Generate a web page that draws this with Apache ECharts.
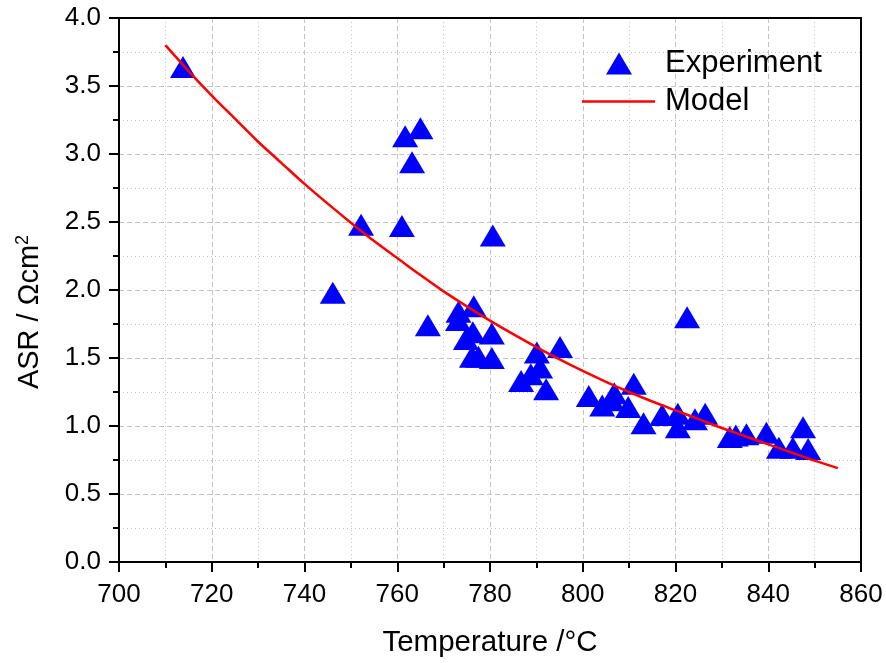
<!DOCTYPE html>
<html>
<head>
<meta charset="utf-8">
<script src="https://cdn.jsdelivr.net/npm/echarts@6/dist/echarts.min.js"></script>
<style>
  html, body { margin: 0; padding: 0; background: #ffffff; }
  #chart { width: 886px; height: 663px; }
</style>
</head>
<body>
<div id="chart"></div>
<script>
// Measured area-specific resistance vs. temperature
const expTemperature = [
  713.8, 746.1, 752.2, 761.0, 761.7, 765.0, 763.2, 780.6, 766.6,
  773.2, 776.5, 773.1, 776.3, 780.4, 774.8, 776.1, 777.5, 780.4,
  790.1, 795.1, 790.8, 788.8, 786.7, 792.1,
  801.3, 804.2, 806.3, 806.8, 811.0, 809.8, 813.1, 817.1, 820.5, 820.5,
  822.5, 824.2, 826.4, 831.7, 833.0, 835.3, 839.6, 842.3, 845.3, 847.5, 848.6
];
const expASR = [
  3.64, 1.98, 2.48, 2.47, 3.13, 3.19, 2.94, 2.40, 1.74,
  1.84, 1.88, 1.78, 1.69, 1.68, 1.64, 1.51, 1.51, 1.50,
  1.54, 1.58, 1.43, 1.38, 1.33, 1.27,
  1.22, 1.15, 1.19, 1.24, 1.31, 1.14, 1.02, 1.08, 1.09, 0.99,
  1.80, 1.05, 1.09, 0.92, 0.93, 0.94, 0.95, 0.84, 0.84, 0.99, 0.83
];

// Model curve
const modelTemperature = [
  710, 715, 720, 725, 730, 735, 740, 745, 750, 755, 760, 765, 770, 775, 780,
  785, 790, 795, 800, 805, 810, 815, 820, 825, 830, 835, 840, 845, 850, 855
];
const modelASR = [
  3.80, 3.61, 3.43, 3.26, 3.09, 2.935, 2.78, 2.635, 2.495, 2.36, 2.235, 2.11, 1.99, 1.88, 1.775,
  1.675, 1.58, 1.49, 1.405, 1.325, 1.25, 1.18, 1.115, 1.05, 0.985, 0.925, 0.865, 0.805, 0.745, 0.69
];

const FONT = 'Liberation Sans, Arial, sans-serif';
const gridDash = '#c4c4c4';

const chart = echarts.init(document.getElementById('chart'), null, { renderer: 'canvas' });

const zip = (a, b) => a.map((v, i) => [v, b[i]]);

const legendText = (padLeft) => ({
  fontSize: 31, color: '#000', fontFamily: FONT, padding: [0, 0, 0, padLeft]
});

chart.setOption({
  backgroundColor: '#ffffff',
  animation: false,
  textStyle: { fontFamily: FONT },
  grid: { left: 119, right: 25, top: 18, bottom: 99, containLabel: false },
  legend: [{
    orient: 'vertical',
    left: 606,
    top: 48,
    padding: 0,
    itemWidth: 26,
    itemHeight: 22,
    textStyle: legendText(28),
    data: [{ name: 'Experiment', icon: 'triangle' }]
  }, {
    orient: 'vertical',
    left: 582,
    top: 86,
    padding: 0,
    itemWidth: 73,
    itemHeight: 2.5,
    textStyle: legendText(5),
    data: [{ name: 'Model', icon: 'rect' }]
  }],
  xAxis: [{
    type: 'value',
    min: 700, max: 860, interval: 20,
    name: 'Temperature /°C',
    nameLocation: 'middle',
    nameGap: 66,
    nameTextStyle: { fontSize: 29.5, color: '#000', fontFamily: FONT },
    axisLine: { show: true, onZero: false, lineStyle: { color: '#000', width: 2 } },
    axisTick: { show: true, length: 10, lineStyle: { color: '#000', width: 2 } },
    minorTick: { show: true, splitNumber: 2, length: 6, lineStyle: { color: '#000', width: 2 } },
    axisLabel: { fontSize: 26, color: '#000', margin: 20, fontFamily: FONT },
    splitLine: { show: true, lineStyle: { color: gridDash, width: 1, type: [5, 3] } },
    minorSplitLine: { show: true, lineStyle: { color: gridDash, width: 1, type: [1, 3] } }
  }, {
    type: 'value', position: 'top',
    min: 700, max: 860, interval: 20,
    axisLine: { show: true, onZero: false, lineStyle: { color: '#000', width: 2 } },
    axisTick: { show: false }, axisLabel: { show: false }, splitLine: { show: false }
  }],
  yAxis: [{
    type: 'value',
    min: 0, max: 4, interval: 0.5,
    axisLine: { show: true, onZero: false, lineStyle: { color: '#000', width: 2 } },
    axisTick: { show: true, length: 10, lineStyle: { color: '#000', width: 2 } },
    minorTick: { show: true, splitNumber: 2, length: 6, lineStyle: { color: '#000', width: 2 } },
    axisLabel: { fontSize: 26, color: '#000', margin: 18, fontFamily: FONT,
                 formatter: v => v.toFixed(1) },
    splitLine: { show: true, lineStyle: { color: gridDash, width: 1, type: [5, 3] } },
    minorSplitLine: { show: true, lineStyle: { color: gridDash, width: 1, type: [1, 3] } }
  }, {
    type: 'value', position: 'right',
    min: 0, max: 4, interval: 0.5,
    axisLine: { show: true, onZero: false, lineStyle: { color: '#000', width: 2 } },
    axisTick: { show: false }, axisLabel: { show: false }, splitLine: { show: false }
  }],
  graphic: [{
    type: 'text',
    x: 30, y: 312,
    rotation: Math.PI / 2,
    style: {
      text: 'ASR / Ωcm{sup|2}',
      fill: '#000',
      font: '29px ' + FONT,
      align: 'center',
      verticalAlign: 'middle',
      rich: {
        sup: { fontSize: 18, fontFamily: FONT, fill: '#000', verticalAlign: 'top', padding: [0, 0, 14, 0] }
      }
    }
  }],
  series: [{
    name: 'Model',
    type: 'line',
    xAxisIndex: 0, yAxisIndex: 0,
    data: zip(modelTemperature, modelASR),
    smooth: 0.3,
    showSymbol: false,
    symbol: 'none',
    lineStyle: { color: '#ff0000', width: 2.5 },
    itemStyle: { color: '#ff0000' },
    z: 3
  }, {
    name: 'Experiment',
    type: 'scatter',
    xAxisIndex: 0, yAxisIndex: 0,
    data: zip(expTemperature, expASR),
    symbol: 'triangle',
    symbolSize: [26, 22],
    itemStyle: { color: '#0000ff', opacity: 1 },
    z: 2
  }]
});
</script>
</body>
</html>
